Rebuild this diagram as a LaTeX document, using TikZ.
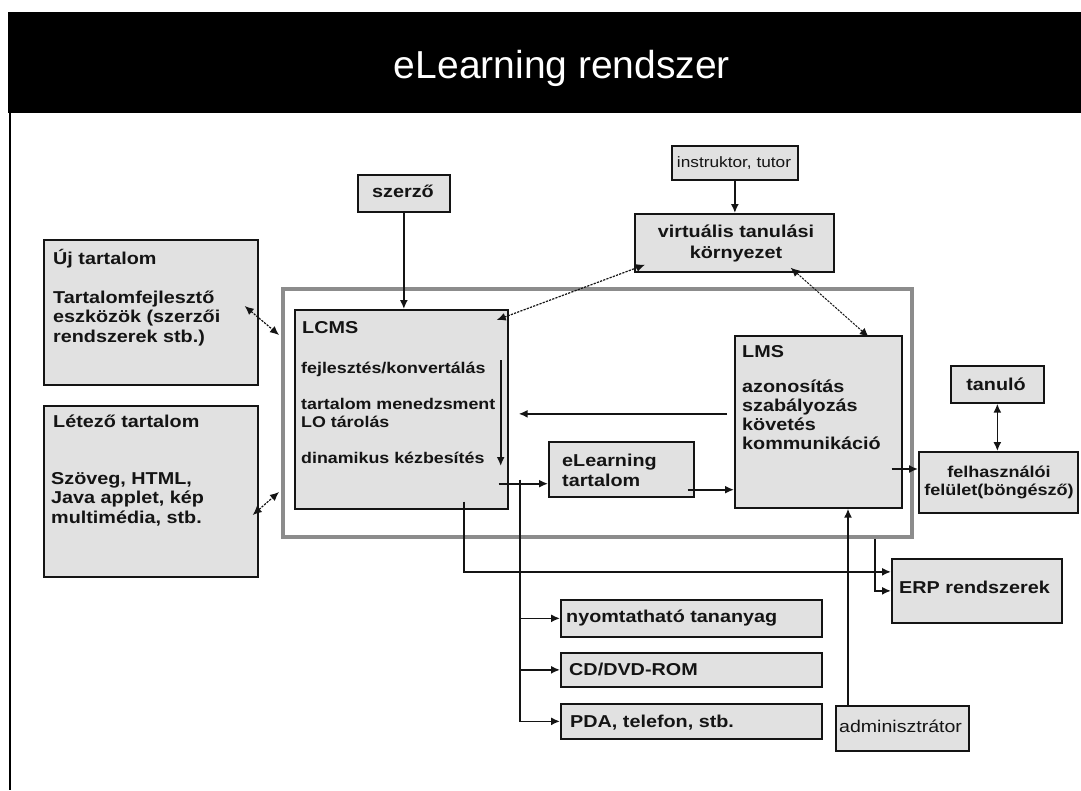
\documentclass[tikz,border=0pt]{standalone}
\usepackage{fontspec}
\setmainfont{Liberation Sans}[FakeStretch=1.15]
\newfontfamily\titlefont{Liberation Sans}
\usetikzlibrary{arrows.meta,calc}

\definecolor{boxfill}{RGB}{225,225,225}
\definecolor{outerframe}{RGB}{140,140,140}
\definecolor{ink}{RGB}{20,20,20}

% multi-line blocks whose reference point is the first baseline
\newcommand\leftlines[2]{\vtop{\baselineskip=#1\lineskiplimit=-100pt\halign{##\hfil\cr#2\crcr}}}
\newcommand\midlines[2]{\vtop{\baselineskip=#1\lineskiplimit=-100pt\halign{\hfil##\hfil\cr#2\crcr}}}

\tikzset{
  box/.style={draw=ink, fill=boxfill, line width=1.7pt, inner sep=0pt, anchor=north west},
  lab/.style={inner sep=0pt, text=ink, font=\fontsize{17.2}{20}\selectfont\bfseries},
  smalltext/.style={inner sep=0pt, text=ink, font=\fontsize{15.5}{18}\selectfont\bfseries},
  arr/.style={draw=ink, line width=1.6pt, -{Latex[length=9pt,width=8pt]}},
  twoway/.style={draw=ink, line width=1.6pt, {Latex[length=9pt,width=8pt]}-{Latex[length=9pt,width=8pt]}},
  finedash/.style={line width=1.2pt, dash pattern=on 2.2pt off 1.2pt},
}

\begin{document}
\begin{tikzpicture}[x=1pt,y=-1pt]
\fill[white] (0,0) rectangle (1081,790);
\useasboundingbox (0,0) rectangle (1081,790);

% title bar
\fill[black] (8,12) rectangle (1081,113);
\node[text=white, inner sep=0pt, anchor=base, font=\titlefont\fontsize{39}{40}\selectfont] (title) at (562,78) {eLearning rendszer};
\draw[line width=2pt, black] (10,113) -- (10,790);

% system frame
\node[draw=outerframe, line width=4pt, inner sep=0pt, anchor=north west,
      minimum width=629pt, minimum height=248pt] (system) at (281,287) {};

% boxes
\node[box, minimum width=92pt,  minimum height=37pt]  (szerzo) at (357,174) {};
\node[box, minimum width=126pt, minimum height=34pt]  (instr)  at (671,145) {};
\node[box, minimum width=199pt, minimum height=58pt]  (virt)   at (634,213) {};
\node[box, minimum width=214pt, minimum height=145pt] (uj)     at (43,239) {};
\node[box, minimum width=214pt, minimum height=171pt] (letezo) at (43,405) {};
\node[box, minimum width=213pt, minimum height=199pt] (lcms)   at (294,309) {};
\node[box, minimum width=167pt, minimum height=172pt] (lms)    at (734,335) {};
\node[box, minimum width=145pt, minimum height=55pt]  (elt)    at (548,441) {};
\node[box, minimum width=93pt,  minimum height=37pt]  (tanulo) at (950,365) {};
\node[box, minimum width=159pt, minimum height=61pt]  (felh)   at (918,451) {};
\node[box, minimum width=170pt, minimum height=64pt]  (erp)    at (891,558) {};
\node[box, minimum width=261pt, minimum height=37pt]  (nyomt)  at (560,599) {};
\node[box, minimum width=261pt, minimum height=34pt]  (cd)     at (560,652) {};
\node[box, minimum width=261pt, minimum height=35pt]  (pda)    at (560,703) {};
\node[box, minimum width=133pt, minimum height=45pt]  (admin)  at (835,705) {};

% texts
\node[lab, anchor=base] (szerzo-t) at (403,197) {szerző};
\node[lab, font=\fontsize{15}{17}\selectfont, anchor=base] (instr-t) at (734,167) {instruktor, tutor};
\node[lab, anchor=base] (virt-t) at (736,237) {\midlines{21pt}{virtuális tanulási\cr környezet}};
\node[lab, anchor=base west] (uj-h) at (53,264) {Új tartalom};
\node[lab, anchor=base west] (uj-t) at (53,303) {\leftlines{19.5pt}{Tartalomfejlesztő\cr eszközök (szerzői\cr rendszerek stb.)}};
\node[lab, anchor=base west] (letezo-h) at (53,427) {Létező tartalom};
\node[lab, anchor=base west] (letezo-t) at (51,484) {\leftlines{19.5pt}{Szöveg, HTML,\cr Java applet, kép\cr multimédia, stb.}};
\node[lab, anchor=base west] (lcms-h) at (302,333) {LCMS};
\node[smalltext, anchor=base west] (lcms-a) at (301,373) {fejlesztés/konvertálás};
\node[smalltext, anchor=base west] (lcms-b) at (301,409) {\leftlines{18pt}{tartalom menedzsment\cr LO tárolás}};
\node[smalltext, anchor=base west] (lcms-c) at (301,463) {dinamikus kézbesítés};
\node[lab, anchor=base west] (lms-h) at (742,357) {LMS};
\node[lab, anchor=base west] (lms-t) at (742,392) {\leftlines{19.3pt}{azonosítás\cr szabályozás\cr követés\cr kommunikáció}};
\node[lab, anchor=base west] (elt-t) at (562,466) {\leftlines{20pt}{eLearning\cr tartalom}};
\node[lab, anchor=base] (tanulo-t) at (996,390) {tanuló};
\node[lab, font=\fontsize{15.7}{18}\selectfont\bfseries, anchor=base] (felh-t) at (999,477) {\midlines{18pt}{felhasználói\cr felület(böngésző)}};
\node[lab, anchor=base west] (erp-t) at (899,593) {ERP rendszerek};
\node[lab, anchor=base west] (nyomt-t) at (566,622) {nyomtatható tananyag};
\node[lab, anchor=base west] (cd-t) at (569,675) {CD/DVD-ROM};
\node[lab, anchor=base west] (pda-t) at (570,727) {PDA, telefon, stb.};
\node[lab, font=\fontsize{17}{19}\selectfont, anchor=base west] (admin-t) at (839,732) {adminisztrátor};

% author and tutor inputs
\draw[arr] (szerzo.south) -- (szerzo.south |- lcms.north);
\draw[arr] (instr.south) -- (instr.south |- virt.north);

% two-way links to the learning environment and the content sources
\draw[twoway, finedash] ($(virt.south west)+(11,-8)$) -- ($(lcms.north east)+(-12,11)$);
\draw[twoway, finedash, line width=1pt] ($(virt.south east)+(-44,-5)$) -- ($(lms.north east)+(-34,2)$);
\draw[twoway, finedash] ($(uj.north east)+(-14,67)$) -- ($(system.north west)+(-2,48)$);
\draw[twoway, finedash] ($(letezo.north east)+(-6,110)$) -- ($(system.south west)+(-2,-47)$);

% LMS feedback into LCMS
\coordinate (lmsback) at ($(lms.west)+(-7,-8)$);
\coordinate (lcmsin) at ($(lcms.east)+(10,0)$);
\draw[arr] (lmsback) -- (lmsback -| lcmsin);

% flow inside LCMS
\draw[arr] ($(lcms.north east)+(-8,51)$) -- ($(lcms.north east)+(-8,157)$);

% delivery channels
\coordinate (dout) at ($(lcms.south east)+(-10,-26)$);
\draw[arr] (dout) -- (dout -| elt.west);
\coordinate (bus) at ($(dout)+(21,-4)$);
\draw[arr] (bus) |- (pda.west);
\draw[arr] (bus |- nyomt.west) -- (nyomt.west);
\draw[arr] (bus |- cd.west) -- (cd.west);

% content into LMS
\coordinate (eout) at ($(elt.south east)+(-7,-8)$);
\draw[arr] (eout) -- (eout -| lms.west);

% ERP links
\coordinate (lout) at ($(lcms.south west)+(170,-8)$);
\coordinate (erpa) at ($(erp.west)+(0,-19)$);
\draw[arr] (lout) |- (erpa);
\draw[arr] ($(system.south east)+(-39,0)$) |- (erp.west);

% administrator
\coordinate (aout) at ($(admin.north west)+(13,0)$);
\draw[arr] (aout) -- (aout |- lms.south);

% user interface and learner
\coordinate (uout) at ($(lms.north east)+(-11,134)$);
\draw[arr] (uout) -- (uout -| felh.west);
\draw[twoway] (tanulo.south) -- (tanulo.south |- felh.north);
\end{tikzpicture}
\end{document}
